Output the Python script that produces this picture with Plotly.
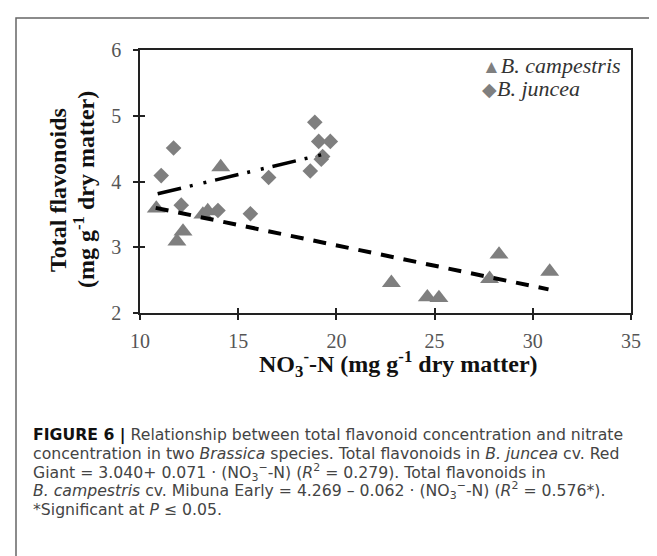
import plotly.graph_objects as go

# ---- data ----
campestris_x = [10.83, 11.88, 12.19, 13.20, 13.45, 14.11, 22.80, 24.63, 25.22, 27.80, 28.28, 30.86]
campestris_y = [3.59, 3.09, 3.24, 3.50, 3.55, 4.22, 2.46, 2.24, 2.23, 2.52, 2.89, 2.63]

juncea_x = [11.08, 11.71, 12.10, 13.97, 15.62, 16.55, 18.67, 18.90, 19.10, 19.23, 19.30, 19.69]
juncea_y = [4.09, 4.51, 3.64, 3.56, 3.51, 4.06, 4.16, 4.90, 4.61, 4.34, 4.38, 4.61]

# regression: intercept, slope, x-extent
juncea_fit = [3.040, 0.071]
juncea_fit_range = [10.9, 19.5]
campestris_fit = [4.269, -0.062]
campestris_fit_range = [10.8, 30.8]

x_ticks = [10, 15, 20, 25, 30, 35]
y_ticks = [2, 3, 4, 5, 6]

# ---- geometry helpers (pixels -> paper) ----
W, H = 657, 556
L, R, T, B = 132, 34, 42, 251
PW, PH = W - L - R, H - T - B


def px(x):
    return (x - L) / PW


def py(y):
    return (H - B - y) / PH


MARK = "#7f7f7f"
SERIF = "Liberation Serif, Times New Roman, serif"
SANS = "DejaVu Sans, sans-serif"

fig = go.Figure()

fig.add_trace(go.Scatter(
    x=campestris_x, y=campestris_y, mode="markers", name="B. campestris",
    marker=dict(symbol="triangle-up", size=16.5, color=MARK), showlegend=False))
fig.add_trace(go.Scatter(
    x=juncea_x, y=juncea_y, mode="markers", name="B. juncea",
    marker=dict(symbol="diamond", size=12, color=MARK), showlegend=False))

# fitted lines (computed from the reported equations)
jx = juncea_fit_range
fig.add_trace(go.Scatter(
    x=jx, y=[juncea_fit[0] + juncea_fit[1] * v for v in jx], mode="lines",
    xaxis="x2", yaxis="y2", showlegend=False, name="B. juncea fit",
    line=dict(color="black", width=3.5, dash="24px,9px,3px,11px,3px,9px")))
cx = campestris_fit_range
fig.add_trace(go.Scatter(
    x=cx, y=[campestris_fit[0] + campestris_fit[1] * v for v in cx], mode="lines",
    xaxis="x2", yaxis="y2", showlegend=False, name="B. campestris fit",
    line=dict(color="black", width=4, dash="13px,10px")))

axis_common = dict(showgrid=False, zeroline=False, linecolor="#222", linewidth=1.5,
                   tickcolor="#222", tickwidth=1.5, ticklen=5)

fig.update_layout(
    width=W, height=H,
    margin=dict(l=L, r=R, t=T, b=B),
    paper_bgcolor="white", plot_bgcolor="white",
    showlegend=False,
    xaxis=dict(range=[10, 35], tickvals=x_ticks, ticks="outside", showline=True, mirror=True,
               tickfont=dict(family=SERIF, size=20, color="#555"), ticklabelstandoff=4,
               **axis_common),
    yaxis=dict(range=[2, 6], tickvals=y_ticks, ticks="outside", showline=True, mirror=True,
               tickfont=dict(family=SERIF, size=20, color="#555"), ticklabelstandoff=8,
               **axis_common),
    xaxis2=dict(range=[10, 35], tickvals=x_ticks, ticks="inside", overlaying="x", anchor="y2",
                side="bottom", showticklabels=False, showline=False, **axis_common),
    yaxis2=dict(range=[2, 6], tickvals=y_ticks, ticks="inside", overlaying="y", anchor="x2",
                side="left", showticklabels=False, showline=False, **axis_common),
)

ann = []
# axis titles
ann.append(dict(text="<b>Total flavonoids</b>", x=px(50), y=py(182), textangle=-90,
                font=dict(family=SERIF, size=24, color="#111")))
ann.append(dict(text="<b>(mg g<sup>-1</sup> dry matter)</b>", x=px(76), y=py(182), textangle=-90,
                font=dict(family=SERIF, size=24, color="#111")))
ann.append(dict(text="<b>NO<sub>3</sub><sup>-</sup>-N (mg g<sup>-1</sup> dry matter)</b>",
                x=px(390), y=py(356), font=dict(family=SERIF, size=24, color="#111")))
# legend
ann.append(dict(text='<span style="color:%s;font-size:19px">▲</span><i>B. campestris</i>' % MARK,
                x=px(472), y=py(58), xanchor="left",
                font=dict(family=SERIF, size=22, color="#333")))
ann.append(dict(text='<span style="color:%s;font-size:19px">◆</span><i>B. juncea</i>' % MARK,
                x=px(472), y=py(80), xanchor="left",
                font=dict(family=SERIF, size=22, color="#333")))

# caption
caption = [
    '<span style="color:#111"><b>FIGURE 6 |</b></span> Relationship between total flavonoid concentration and nitrate',
    "concentration in two <i>Brassica</i> species. Total flavonoids in <i>B. juncea</i> cv. Red",
    "Giant = %.3f+ %.3f · (NO<sub>3</sub><sup>−</sup>-N) (<i>R</i><sup>2</sup> = 0.279). Total flavonoids in"
    % (juncea_fit[0], juncea_fit[1]),
    "<i>B. campestris</i> cv. Mibuna Early = %.3f – %.3f · (NO<sub>3</sub><sup>−</sup>-N) (<i>R</i><sup>2</sup> = 0.576*)."
    % (campestris_fit[0], -campestris_fit[1]),
    "*Significant at <i>P</i> ≤ 0.05.",
]
cap_y = [427, 445.5, 464, 482.5, 501]
for t, yy in zip(caption, cap_y):
    ann.append(dict(text=t, x=px(23), y=py(yy), xanchor="left",
                    font=dict(family=SANS, size=15.7, color="#444")))

for a in ann:
    a.setdefault("xref", "paper")
    a.setdefault("yref", "paper")
    a.setdefault("showarrow", False)
    a.setdefault("yanchor", "middle")
    a.setdefault("xanchor", "center")
fig.update_layout(annotations=ann)

# outer figure frame
fig.add_shape(type="rect", xref="paper", yref="paper",
              x0=px(8), x1=px(W + 20), y0=py(H + 20), y1=py(10),
              line=dict(color="#666", width=1.5), fillcolor="rgba(0,0,0,0)", layer="below")

fig.write_html("out.html")
